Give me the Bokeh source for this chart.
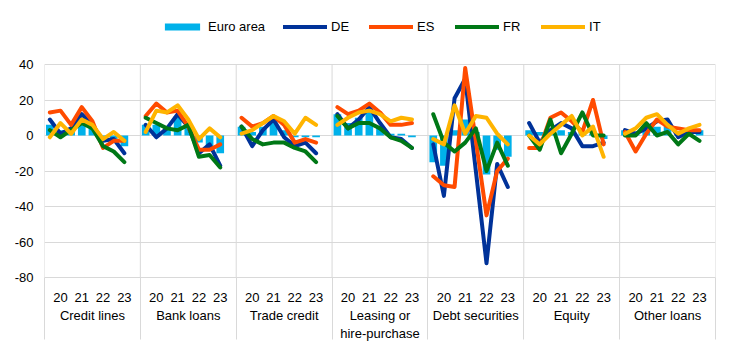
import math
from bokeh.plotting import figure
from bokeh.models import (FixedTicker, LinearAxis, Legend, LegendItem, Range1d, Grid)
from bokeh.embed import file_html
from bokeh.resources import INLINE

categories = ["Credit lines", "Bank loans", "Trade credit",
              "Leasing or\nhire-purchase", "Debt securities", "Equity", "Other loans"]
year_labels = ["20", "21", "22", "23"]
y_ticks = [-80, -60, -40, -20, 0, 20, 40]

# 8 half-year observations per category
euro_area = [[6, 3, 3, 10, 5, -3, -2, -6],
             [6, 6, 4, 11, 5, -4, -7, -10],
             [5, 2, 5, 10, 3, -1, -1, -1],
             [12, 7, 10, 15, 5, 1, 1, -1],
             [-15, -17, 3, 9, 2, -22, -8, -12],
             [3, 2, 2, 3, 2, 2, 1, -2],
             [3, 2, 4, 5, 6, 2, 2, 3]]
de = [[9, 1, 4, 12, 6, -3, -2, -10],
      [6, -1, 4, 12, 5, -10, -5, -17],
      [5, -6, 3, 9, -1, -6, -4, -10],
      [12, 4, 9, 16, 7, -1, -2, -7],
      [-5, -34, 21, 32, -20, -72, -16, -29],
      [7, -4, 3, 7, 4, -6, -6, -4],
      [3, 1, 4, 8, 9, -1, 2, 2]]
es = [[13, 14, 6, 16, 8, -7, -3, -3],
      [11, 18, 13, 14, 5, -8, -8, -5],
      [10, 5, 7, 11, 6, -4, -2, -4],
      [16, 12, 14, 18, 13, 6, 6, 7],
      [-23, -28, -29, 38, -3, -45, -20, -13],
      [-7, -7, 10, 13, 8, 2, 20, -5],
      [2, -9, 1, 9, 5, 4, 3, 3]]
fr = [[3, -1, 3, 7, 4, -6, -9, -15],
      [10, 7, 4, 3, 6, -12, -11, -18],
      [5, -2, -5, -4, -4, -7, -9, -15],
      [11, 4, 7, 7, 4, -1, -3, -7],
      [12, -4, -9, -4, 4, -20, -4, -17],
      [0, -8, 9, -10, 1, 13, 0, 0],
      [0, 0, 7, 0, 2, -5, 1, -3]]
it = [[-1, 7, 1, 9, 6, -2, 2, -3],
      [2, 14, 13, 17, 9, -2, 4, -1],
      [1, 3, 7, 11, 8, 1, 10, 6],
      [6, 10, 13, 14, 12, 8, 10, 9],
      [-2, -5, 17, 1, 11, 10, 1, -5],
      [0, -5, 1, 6, 11, 0, 5, -12],
      [1, 4, 10, 12, 6, 1, 4, 6]]

FONT = "Liberation Sans"
GRID = "#d9d9d9"
SLOTS = 9  # 8 periods + 1 gap per category
n_cat = len(categories)
n_per = len(euro_area[0])
Y_MIN, Y_MAX = -80, 40
TOP_PAD = 53 * 120 / 213  # room above the 40 line for the legend (data units)

def xs_for(cat):
    return [cat * SLOTS + 0.5 + k for k in range(n_per)]

def flat_with_breaks(series):
    xs, ys = [], []
    for c, vals in enumerate(series):
        xs += xs_for(c) + [math.nan]
        ys += list(vals) + [math.nan]
    return xs, ys

p = figure(width=740, height=352, x_range=Range1d(0, n_cat * SLOTS),
           y_range=Range1d(Y_MIN, Y_MAX + TOP_PAD), output_backend="svg",
           toolbar_location=None, min_border_left=44, min_border_right=25,
           min_border_top=11, min_border_bottom=75,
           x_axis_location=None, y_axis_location=None)
p.outline_line_color = None
p.grid.visible = False
p.background_fill_color = "white"

# horizontal grid lines
p.add_layout(Grid(dimension=1, ticker=FixedTicker(ticks=y_ticks),
                  grid_line_color=GRID, grid_line_width=1))

# category separators inside the plotting area
boundaries = [c * SLOTS for c in range(n_cat + 1)]
p.segment(x0=boundaries, y0=[Y_MIN] * len(boundaries), x1=boundaries,
          y1=[Y_MAX] * len(boundaries), line_color=GRID, line_width=1)

# bars
bx, btop = [], []
for c, vals in enumerate(euro_area):
    bx += xs_for(c)
    btop += vals
bars = p.vbar(x=bx, top=btop, width=0.72, bottom=0, fill_color="#00B1EA",
              line_color=None)

colors = {"DE": "#003299", "ES": "#FF4B00", "FR": "#007816", "IT": "#FFB400"}
series = {"DE": de, "ES": es, "FR": fr, "IT": it}
line_r = {}
for name, data in series.items():
    xs, ys = flat_with_breaks(data)
    line_r[name] = p.line(xs, ys, line_color=colors[name], line_width=4,
                          line_join="round", line_cap="round")

# y axis
yax = LinearAxis(ticker=FixedTicker(ticks=y_ticks), axis_line_color=None,
                 major_tick_line_color=None, minor_tick_line_color=None,
                 major_tick_out=0, major_tick_in=0, major_label_standoff=11,
                 major_label_text_font=FONT, major_label_text_font_size="13px",
                 major_label_text_color="black")
yax.major_label_overrides = {t: str(t) for t in y_ticks}
p.add_layout(yax, "left")

# year axis (minor ticks draw the category separators below the frame)
year_ticks, year_over = [], {}
for c in range(n_cat):
    for j, lab in enumerate(year_labels):
        t = c * SLOTS + 1.5 + 2 * j
        year_ticks.append(t)
        year_over[t] = lab
xax1 = LinearAxis(ticker=FixedTicker(ticks=year_ticks, minor_ticks=boundaries),
                  major_label_overrides=year_over, major_tick_out=0, major_tick_in=0,
                  minor_tick_out=62, minor_tick_in=0, minor_tick_line_color=GRID,
                  axis_line_color=GRID, major_label_standoff=-47,
                  major_label_text_font=FONT, major_label_text_font_size="13px",
                  major_label_text_color="black")
p.add_layout(xax1, "below")

cat_ticks = [c * SLOTS + 4.5 for c in range(n_cat)]
xax2 = LinearAxis(ticker=FixedTicker(ticks=cat_ticks),
                  major_label_overrides={t: categories[i] for i, t in enumerate(cat_ticks)},
                  major_tick_out=0, major_tick_in=0, minor_tick_line_color=None,
                  major_tick_line_color=None, axis_line_color=None,
                  major_label_standoff=3, major_label_text_font=FONT,
                  major_label_text_font_size="13px", major_label_text_color="black")
p.add_layout(xax2, "below")

items = [LegendItem(label="Euro area", renderers=[bars])]
for name in ["DE", "ES", "FR", "IT"]:
    items.append(LegendItem(label=name, renderers=[line_r[name]]))
legend = Legend(items=items, orientation="horizontal", location=(116, 243),
                glyph_width=44, glyph_height=9, label_standoff=4, spacing=18,
                padding=0, margin=0, border_line_color=None,
                background_fill_alpha=0, label_text_font=FONT,
                label_text_font_size="13px", label_text_color="black")
p.add_layout(legend, "center")

open("out.html", "w").write(file_html(p, INLINE))
